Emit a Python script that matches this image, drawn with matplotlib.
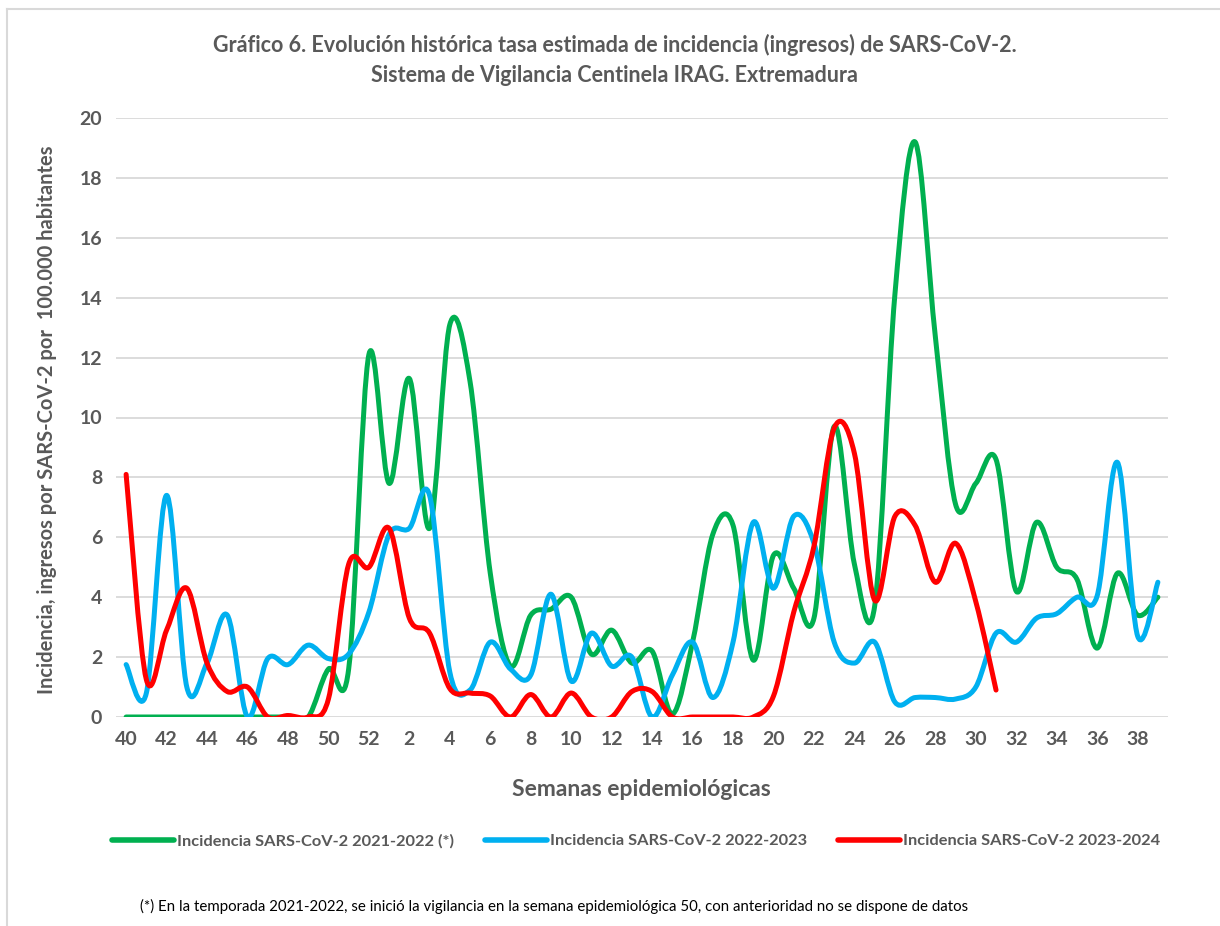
import numpy as np
import matplotlib.pyplot as plt
from matplotlib.path import Path
from matplotlib.patches import PathPatch
from matplotlib.lines import Line2D

plt.rcParams['font.family'] = ['Lato', 'DejaVu Sans']

# semanas 40..52 y 1..39
semanas = list(range(40, 53)) + list(range(1, 40))

inc_2122 = [0, 0, 0, 0, 0, 0, 0, 0, 0, 0, 1.6, 1.6, 12.1, 7.8, 11.3, 6.3, 13.1,
            11.2, 4.8, 1.7, 3.4, 3.6, 4.0, 2.1, 2.9, 1.8, 2.2, 0.1, 2.5, 6.1,
            6.4, 1.9, 5.4, 4.3, 3.3, 9.7, 5.1, 3.7, 14.1, 19.2, 12.7, 7.1,
            7.8, 8.6, 4.2, 6.5, 5.0, 4.6, 2.3, 4.8, 3.4, 4.0]

inc_2223 = [1.75, 0.8, 7.4, 1.0, 1.8, 3.4, 0.0, 1.95, 1.75, 2.4, 1.95, 2.1,
            3.5, 6.1, 6.3, 7.4, 1.5, 0.9, 2.5, 1.6, 1.4, 4.1, 1.2, 2.8, 1.7,
            2.0, 0.0, 1.4, 2.5, 0.65, 2.5, 6.5, 4.3, 6.7, 5.8, 2.5, 1.8, 2.5,
            0.5, 0.65, 0.65, 0.6, 1.0, 2.8, 2.5, 3.3, 3.45, 4.0, 4.05, 8.5,
            2.7, 4.5]

inc_2324 = [8.1, 1.25, 2.9, 4.3, 1.8, 0.85, 1.0, 0.0, 0.05, 0.0, 0.6, 5.1,
            5.0, 6.3, 3.3, 2.8, 0.95, 0.8, 0.7, 0.0, 0.75, 0.0, 0.8, 0.0,
            0.0, 0.85, 0.85, 0.0, 0.0, 0.0, 0.0, 0.0, 0.7, 3.5, 5.7, 9.65,
            8.8, 3.9, 6.7, 6.4, 4.5, 5.8, 3.85, 0.9]

series = [
    (inc_2122, '#00B050', 'Incidencia SARS-CoV-2 2021-2022 (*)'),
    (inc_2223, '#00B0F0', 'Incidencia SARS-CoV-2 2022-2023'),
    (inc_2324, '#FF0000', 'Incidencia SARS-CoV-2 2023-2024'),
]

gray = '#595959'


def smooth_path(y):
    # curva suavizada tipo Excel (Bezier por los puntos)
    x = np.arange(len(y), dtype=float)
    y = np.asarray(y, dtype=float)
    pts = np.column_stack([x, y])
    verts = [pts[0]]
    codes = [Path.MOVETO]
    n = len(pts)
    for k in range(n - 1):
        p0 = pts[k - 1] if k > 0 else pts[k]
        p1 = pts[k]
        p2 = pts[k + 1]
        p3 = pts[k + 2] if k + 2 < n else pts[k + 1]
        c1 = p1 + (p2 - p0) / 6.0
        c2 = p2 - (p3 - p1) / 6.0
        verts += [c1, c2, p2]
        codes += [Path.CURVE4] * 3
    return Path(verts, codes)


fig = plt.figure(figsize=(12.2, 9.26), dpi=100)
ax = fig.add_axes([116 / 1220, 1 - 717 / 926, (1168 - 116) / 1220, (717 - 118) / 926])

for vals, col, lab in series:
    patch = PathPatch(smooth_path(vals), facecolor='none', edgecolor=col,
                      lw=3.6, capstyle='round', joinstyle='round', zorder=3)
    ax.add_patch(patch)

ax.set_xlim(-0.5, len(semanas) - 0.5)
ax.set_ylim(0, 20)
ax.set_yticks(range(0, 21, 2))
ax.set_xticks(range(0, len(semanas), 2))
ax.set_xticklabels([str(semanas[i]) for i in range(0, len(semanas), 2)])
ax.grid(axis='y', color='#D9D9D9', lw=1.3)
ax.set_axisbelow(True)
for s in ax.spines.values():
    s.set_visible(False)
ax.tick_params(length=0, labelsize=14, labelcolor=gray, pad=10)
for t in ax.get_xticklabels() + ax.get_yticklabels():
    t.set_fontweight('bold')

fig.text(0.504, 1 - 45 / 926, 'Gráfico 6. Evolución histórica tasa estimada de incidencia (ingresos) de SARS-CoV-2.',
         ha='center', va='center', fontsize=15.5, fontweight='bold', color=gray)
fig.text(0.504, 1 - 75 / 926, 'Sistema de Vigilancia Centinela IRAG. Extremadura',
         ha='center', va='center', fontsize=15.5, fontweight='bold', color=gray)

fig.text(47 / 1220, 1 - 420 / 926, 'Incidencia, ingresos por SARS-CoV-2 por  100.000 habitantes',
         rotation=90, ha='center', va='center', fontsize=14.5, fontweight='bold', color=gray)
fig.text(641 / 1220, 1 - 790 / 926, 'Semanas epidemiológicas',
         ha='center', va='center', fontsize=16.5, fontweight='bold', color=gray)

handles = [Line2D([], [], color=c, lw=4, solid_capstyle='round') for _, c, _ in series]
leg = fig.legend(handles, [l for _, _, l in series], loc='center', ncol=3,
                 bbox_to_anchor=(636 / 1220, 1 - 841 / 926), frameon=False,
                 fontsize=11.8, handlelength=3.8, handletextpad=0.15, columnspacing=1.9)
for t in leg.get_texts():
    t.set_color(gray)
    t.set_fontweight('bold')

fig.text(140 / 1220, 1 - 906 / 926,
         '(*) En la temporada 2021-2022, se inició la vigilancia en la semana epidemiológica 50, con anterioridad no se dispone de datos',
         ha='left', va='center', fontsize=10.8, color='black')

# marco del área del gráfico
fig.add_artist(Line2D([7 / 1220, 1], [1 - 9 / 926, 1 - 9 / 926], color='#D9D9D9', lw=1.5))
fig.add_artist(Line2D([7 / 1220, 7 / 1220], [0, 1 - 9 / 926], color='#D9D9D9', lw=1.5))

fig.savefig('out.png', dpi=100)
